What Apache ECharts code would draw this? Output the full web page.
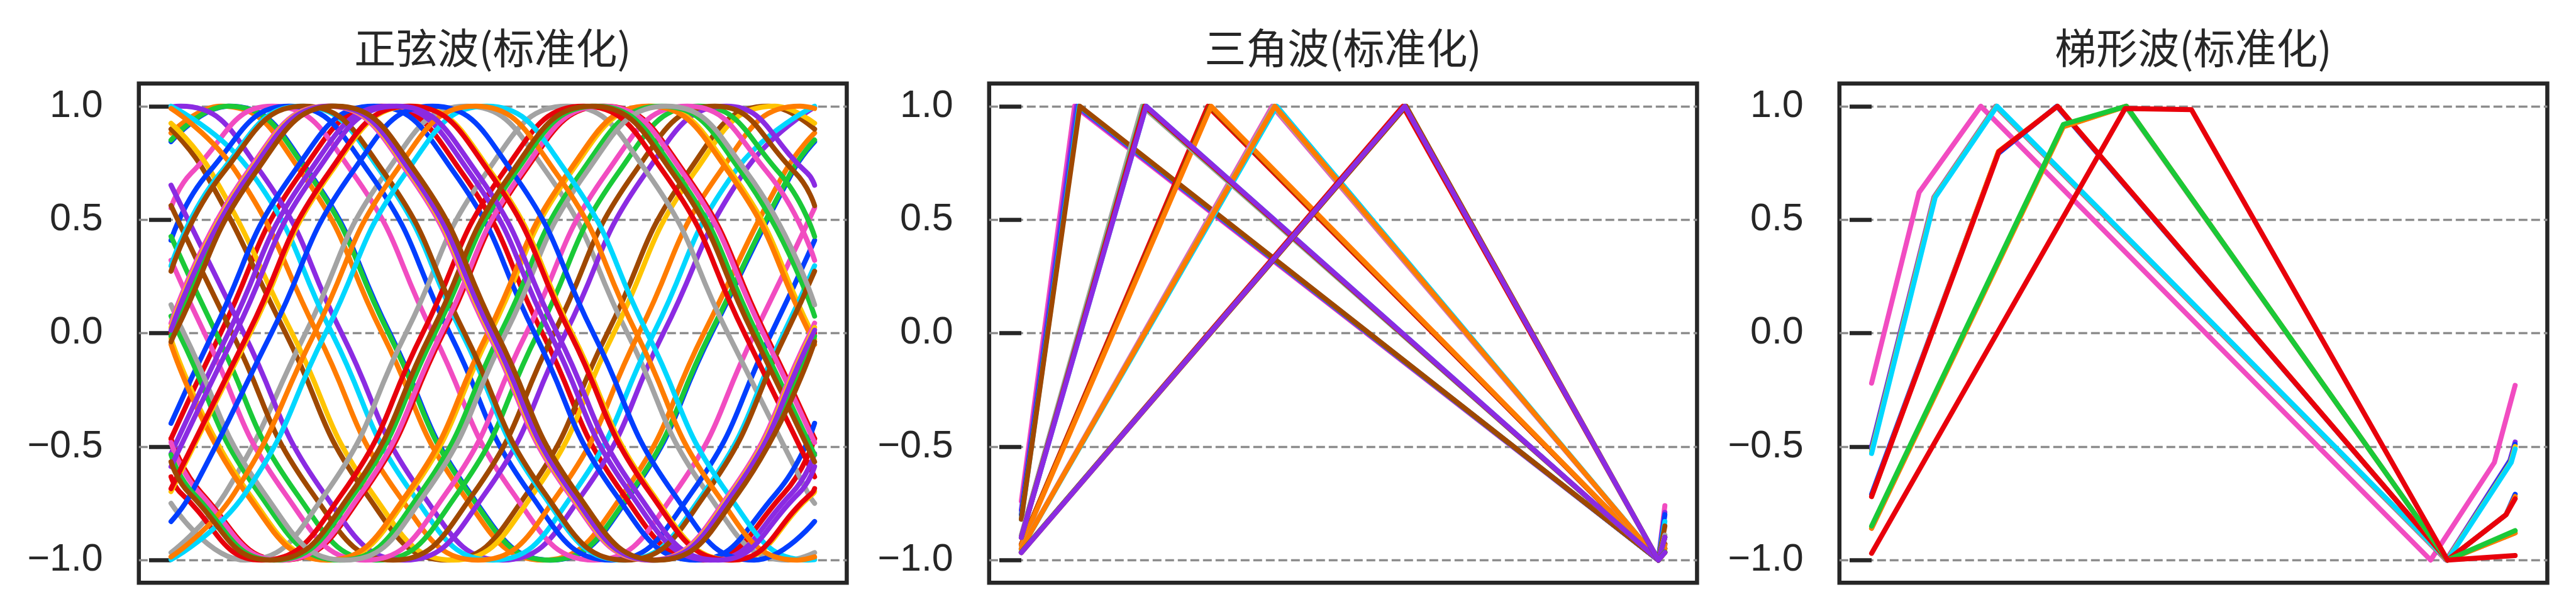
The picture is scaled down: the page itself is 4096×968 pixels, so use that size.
<!DOCTYPE html>
<html><head><meta charset="utf-8">
<script src="https://cdn.jsdelivr.net/npm/echarts@6/dist/echarts.min.js"></script>
<style>html,body{margin:0;padding:0;background:#fff}#c{width:4096px;height:968px}</style>
</head><body><div id="c"></div>
<script>
// ---------------- data ----------------
const titles = ['正弦波(标准化)', '三角波(标准化)', '梯形波(标准化)'];
const yTicks = [-1.0, -0.5, 0.0, 0.5, 1.0];
const palette = {blue:'#023eff', orange:'#ff7c00', green:'#1ac938', red:'#e8000b', purple:'#8b2be2',
                 brown:'#9f4800', pink:'#f14cc1', gray:'#a3a3a3', yellow:'#ffc400', cyan:'#00d7ff'};

// sine panel: key points (peaks, troughs, crossings, eighth points, ends)
const sineColors = ['blue','orange','green','red','purple','brown','pink','gray','yellow','cyan',
  'blue','orange','green','red','purple','brown','pink','gray','yellow','cyan',
  'blue','orange','green','red','purple','brown','pink','gray','yellow','cyan',
  'blue','orange','green','red','purple','brown','pink','yellow','red','green','purple','brown'];
const sineCurves = [
 [[0,.844],[9,1],[21.5,.707],[34,0],[46.5,-.707],[59,-1],[71.5,-.707],[84,0],[96.5,.707],[100,.844]],
 [[0,.882],[7.8,1],[20.3,.707],[32.8,0],[45.3,-.707],[57.8,-1],[70.3,-.707],[82.8,0],[95.3,.707],[100,.882]],
 [[0,.851],[8.8,1],[21.3,.707],[33.8,0],[46.3,-.707],[58.8,-1],[71.3,-.707],[83.8,0],[96.3,.707],[100,.851]],
 [[0,-.465],[7.7,0],[20.2,.707],[32.7,1],[45.2,.707],[57.7,0],[70.2,-.707],[82.7,-1],[95.2,-.707],[100,-.465]],
 [[0,.996],[1.5,1],[14,.707],[26.5,0],[39,-.707],[51.5,-1],[64,-.707],[76.5,0],[89,.707],[100,.996]],
 [[0,.899],[5.3,.707],[17.8,0],[30.3,-.707],[42.8,-1],[55.3,-.707],[67.8,0],[80.3,.707],[92.8,1],[100,.899]],
 [[0,.552],[3.2,.707],[15.7,1],[28.2,.707],[40.7,0],[53.2,-.707],[65.7,-1],[78.2,-.707],[90.7,0],[100,.552]],
 [[0,-.967],[8.4,-.707],[20.9,0],[33.4,.707],[45.9,1],[58.4,.707],[70.9,0],[83.4,-.707],[95.9,-1],[100,-.967]],
 [[0,.925],[6.3,.707],[18.8,0],[31.3,-.707],[43.8,-1],[56.3,-.707],[68.8,0],[81.3,.707],[93.8,1],[100,.925]],
 [[0,1],[12.5,.707],[25,0],[37.5,-.707],[50,-1],[62.5,-.707],[75,0],[87.5,.707],[100,1]],
 [[0,.409],[5.8,.707],[18.3,1],[30.8,.707],[43.3,0],[55.8,-.707],[68.3,-1],[80.8,-.707],[93.3,0],[100,.409]],
 [[0,.990],[10.2,.707],[22.7,0],[35.2,-.707],[47.7,-1],[60.2,-.707],[72.7,0],[85.2,.707],[97.7,1],[100,.990]],
 [[0,.426],[7,0],[19.5,-.707],[32,-1],[44.5,-.707],[57,0],[69.5,.707],[82,1],[94.5,.707],[100,.426]],
 [[0,-.465],[4.8,-.707],[17.3,-1],[29.8,-.707],[42.3,0],[54.8,.707],[67.3,1],[79.8,.707],[92.3,0],[100,-.465]],
 [[0,.652],[11.3,0],[23.8,-.707],[36.3,-1],[48.8,-.707],[61.3,0],[73.8,.707],[86.3,1],[98.8,.707],[100,.652]],
 [[0,.562],[9.5,0],[22,-.707],[34.5,-1],[47,-.707],[59.5,0],[72,.707],[84.5,1],[97,.707],[100,.562]],
 [[0,.321],[5.2,0],[17.7,-.707],[30.2,-1],[42.7,-.707],[55.2,0],[67.7,.707],[80.2,1],[92.7,.707],[100,.321]],
 [[0,-.750],[11.5,-1],[24,-.707],[36.5,0],[49,.707],[61.5,1],[74,.707],[86.5,0],[99,-.707],[100,-.750]],
 [[0,-.025],[12.1,-.707],[24.6,-1],[37.1,-.707],[49.6,0],[62.1,.707],[74.6,1],[87.1,.707],[99.6,0],[100,-.025]],
 [[0,.297],[7.7,.707],[20.2,1],[32.7,.707],[45.2,0],[57.7,-.707],[70.2,-1],[82.7,-.707],[95.2,0],[100,.297]],
 [[0,-.397],[6.5,0],[19,.707],[31.5,1],[44,.707],[56.5,0],[69,-.707],[81.5,-1],[94,-.707],[100,-.397]],
 [[0,-.050],[11.7,-.707],[24.2,-1],[36.7,-.707],[49.2,0],[61.7,.707],[74.2,1],[86.7,.707],[99.2,0],[100,-.050]],
 [[0,.075],[1.2,0],[13.7,-.707],[26.2,-1],[38.7,-.707],[51.2,0],[63.7,.707],[76.2,1],[88.7,.707],[100,.075]],
 [[0,-.633],[1.6,-.707],[14.1,-1],[26.6,-.707],[39.1,0],[51.6,.707],[64.1,1],[76.6,.707],[89.1,0],[100,-.633]],
 [[0,-.531],[8.9,0],[21.4,.707],[33.9,1],[46.4,.707],[58.9,0],[71.4,-.707],[83.9,-1],[96.4,-.707],[100,-.531]],
 [[0,.273],[8.1,.707],[20.6,1],[33.1,.707],[45.6,0],[58.1,-.707],[70.6,-1],[83.1,-.707],[95.6,0],[100,.273]],
 [[0,-.482],[4.5,-.707],[17,-1],[29.5,-.707],[42,0],[54.5,.707],[67,1],[79.5,.707],[92,0],[100,-.482]],
 [[0,.125],[2,0],[14.5,-.707],[27,-1],[39.5,-.707],[52,0],[64.5,.707],[77,1],[89.5,.707],[100,.125]],
 [[0,-.698],[12.3,0],[24.8,.707],[37.3,1],[49.8,.707],[62.3,0],[74.8,-.707],[87.3,-1],[99.8,-.707],[100,-.698]],
 [[0,-.998],[11.5,-.707],[24,0],[36.5,.707],[49,1],[61.5,.707],[74,0],[86.5,-.707],[99,-1],[100,-.998]],
 [[0,-.830],[3.1,-.707],[15.6,0],[28.1,.707],[40.6,1],[53.1,.707],[65.6,0],[78.1,-.707],[90.6,-1],[100,-.830]],
 [[0,-.986],[9.8,-.707],[22.3,0],[34.8,.707],[47.3,1],[59.8,.707],[72.3,0],[84.8,-.707],[97.3,-1],[100,-.986]],
 [[0,-.536],[3.5,-.707],[16,-1],[28.5,-.707],[41,0],[53.5,.707],[66,1],[78.5,.707],[91,0],[100,-.536]],
 [[0,-.685],[12,0],[24.5,.707],[37,1],[49.5,.707],[62,0],[74.5,-.707],[87,-1],[99.5,-.707],[100,-.685]],
 [[0,-.588],[10,0],[22.5,.707],[35,1],[47.5,.707],[60,0],[72.5,-.707],[85,-1],[97.5,-.707],[100,-.588]],
 [[0,-.567],[2.9,-.707],[15.4,-1],[27.9,-.707],[40.4,0],[52.9,.707],[65.4,1],[77.9,.707],[90.4,0],[100,-.567]],
 [[0,.044],[11.8,.707],[24.3,1],[36.8,.707],[49.3,0],[61.8,-.707],[74.3,-1],[86.8,-.707],[99.3,0],[100,.044]],
 [[0,.025],[12.1,.707],[24.6,1],[37.1,.707],[49.6,0],[62.1,-.707],[74.6,-1],[87.1,-.707],[99.6,0],[100,.025]],
 [[0,0],[12.5,.707],[25,1],[37.5,.707],[50,0],[62.5,-.707],[75,-1],[87.5,-.707],[100,0]],
 [[0,-.013],[0.2,0],[12.7,.707],[25.2,1],[37.7,.707],[50.2,0],[62.7,-.707],[75.2,-1],[87.7,-.707],[100,-.013]],
 [[0,.013],[12.3,.707],[24.8,1],[37.3,.707],[49.8,0],[62.3,-.707],[74.8,-1],[87.3,-.707],[99.8,0],[100,.013]],
 [[0,-.038],[0.6,0],[13.1,.707],[25.6,1],[38.1,.707],[50.6,0],[63.1,-.707],[75.6,-1],[88.1,-.707],[100,-.038]]
];

// triangle panel: start, peak, trough, end (sample index 0..99)
const triColors = ['pink','purple','blue','cyan','brown',
                   'red','brown','orange',
                   'pink','gray','cyan','orange',
                   'gray','green','cyan','red','purple',
                   'red','green','brown','purple'];
const triCurves = [
 [[0,-.74],[8.2,1],[98,-1],[99,-.76]],
 [[0,-.78],[8.5,1],[98,-1],[99,-.79]],
 [[0,-.80],[8.8,1],[98,-1],[99,-.80]],
 [[0,-.82],[8.9,1],[98,-1],[99,-.83]],
 [[0,-.82],[9.0,1],[98,-1],[99,-.85]],
 [[0,-.93],[28.7,1],[98,-1],[99,-.93]],
 [[0,-.93],[29.0,1],[98,-1],[99,-.93]],
 [[0,-.935],[29.2,1],[98,-1],[99,-.935]],
 [[0,-.95],[38.6,1],[98,-1],[99,-.95]],
 [[0,-.95],[38.8,1],[98,-1],[99,-.95]],
 [[0,-.95],[39.3,1],[98,-1],[99,-.95]],
 [[0,-.95],[39.0,1],[98,-1],[99,-.95]],
 [[0,-.89],[18.6,1],[98,-1],[99,-.89]],
 [[0,-.90],[18.9,1],[98,-1],[99,-.90]],
 [[0,-.90],[19.2,1],[98,-1],[99,-.90]],
 [[0,-.90],[19.0,1],[98,-1],[99,-.90]],
 [[0,-.90],[19.2,1],[98,-1],[99,-.90]],
 [[0,-.965],[58.7,1],[98,-1],[99,-.965]],
 [[0,-.965],[59.0,1],[98,-1],[99,-.965]],
 [[0,-.967],[59.2,1],[98,-1],[99,-.967]],
 [[0,-.967],[59.0,1],[98,-1],[99,-.967]]
];

// trapezoid panel: corner points
const trapColors = ['pink','purple','blue','yellow','cyan','blue','orange','red','gray','orange','green','red'];
const trapCurves = [
 [[0,-.22],[7.3,.62],[16.8,1],[86,-1],[95.8,-.57],[99,-.23]],
 [[0,-.50],[9.6,.60],[19.1,1],[88.4,-1],[98.2,-.56],[99,-.48]],
 [[0,-.51],[9.7,.60],[19.2,1],[88.5,-1],[98.3,-.56],[99,-.49]],
 [[0,-.52],[9.7,.60],[19.2,1],[88.5,-1],[98.3,-.57],[99,-.50]],
 [[0,-.53],[9.8,.60],[19.3,1],[88.6,-1],[98.4,-.57],[99,-.51]],
 [[0,-.71],[19.4,.79],[28.5,1],[88.6,-1],[97.6,-.80],[99,-.71]],
 [[0,-.72],[19.5,.80],[28.6,1],[88.6,-1],[97.6,-.80],[99,-.72]],
 [[0,-.72],[19.6,.80],[28.6,1],[88.6,-1],[97.6,-.80],[99,-.73]],
 [[0,-.86],[29.4,.91],[39.1,1],[88.6,-1],[99,-.88]],
 [[0,-.86],[29.5,.91],[39.2,1],[88.6,-1],[99,-.88]],
 [[0,-.85],[29.5,.92],[39.2,1],[88.6,-1],[99,-.87]],
 [[0,-.97],[39,.99],[49.2,.985],[88.6,-1],[99,-.98]]
];

// ---------------- layout (px in the 4096x968 window) ----------------
const gridLeft = [220.8, 1572.8, 2924.8];
const gridTop = 132.8, gridW = 1125.6, gridH = 793.5;
const xRange = [[-5, 105], [-4.95, 103.95], [-4.95, 103.95]];
const INK = '#262626';

const chart = echarts.init(document.getElementById('c'), null, {renderer: 'canvas'});
const grids = [], xAxes = [], yAxes = [], series = [], graphics = [];
for (let i = 0; i < 3; i++) {
  grids.push({left: gridLeft[i], top: gridTop, width: gridW, height: gridH, show: true,
    borderColor: INK, borderWidth: 6.5, backgroundColor: 'rgba(0,0,0,0)', containLabel: false, outerBoundsMode: 'none'});
  xAxes.push({type: 'value', gridIndex: i, min: xRange[i][0], max: xRange[i][1], show: false});
  yAxes.push({type: 'value', gridIndex: i, min: -1.1, max: 1.1,
    axisLine: {show: false},
    axisTick: {show: true, inside: false, length: 35, customValues: yTicks, lineStyle: {color: INK, width: 6.5}},
    axisLabel: {show: true, customValues: yTicks, margin: 57, color: INK, fontSize: 61, fontFamily: 'Liberation Sans',
      formatter: v => (v < 0 ? '\u2212' : '') + Math.abs(v).toFixed(1)},
    splitLine: {show: true, lineStyle: {color: '#8c8c8c', width: 3.3, type: [14, 6]}}
  });
  graphics.push({type: 'text', x: gridLeft[i] + gridW / 2, y: 76, silent: true,
    style: {text: titles[i], fontSize: 66, fontFamily: 'Noto Sans CJK SC', fill: INK, align: 'center', verticalAlign: 'middle'}});
}
function addSeries(curves, colors, idx, smooth) {
  curves.forEach((pts, k) => {
    series.push({type: 'line', xAxisIndex: idx, yAxisIndex: idx, data: pts, smooth: smooth,
      showSymbol: false, symbol: 'none', silent: true, animation: false, clip: true,
      lineStyle: {color: palette[colors[k]], width: 8, cap: 'round', join: 'round'}});
  });
}
addSeries(sineCurves, sineColors, 0, true);
addSeries(triCurves, triColors, 1, false);
addSeries(trapCurves, trapColors, 2, false);

chart.setOption({backgroundColor: '#ffffff', animation: false, grid: grids, xAxis: xAxes, yAxis: yAxes,
  series: series, graphic: graphics});
</script></body></html>
